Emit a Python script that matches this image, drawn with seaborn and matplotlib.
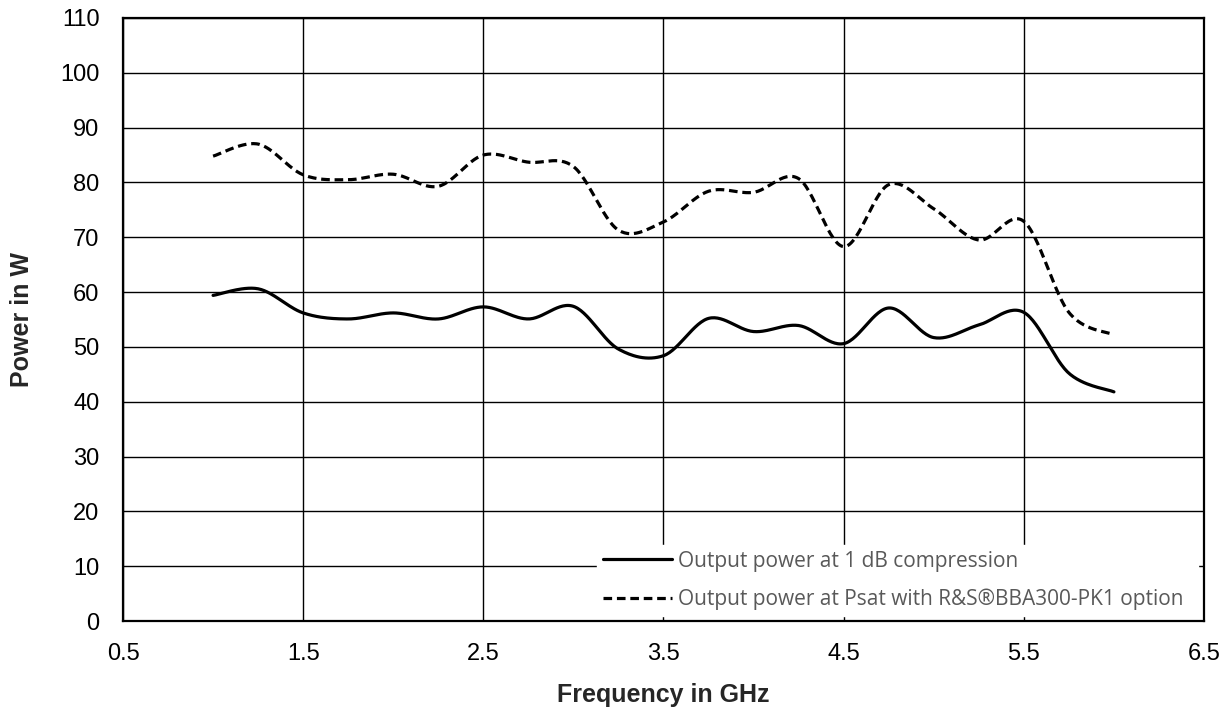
import numpy as np
import pandas as pd
import matplotlib
matplotlib.use("Agg")
import matplotlib.pyplot as plt
import seaborn as sns

freq_ghz = [1.0, 1.25, 1.5, 1.75, 2.0, 2.25, 2.5, 2.75, 3.0, 3.25, 3.5,
            3.75, 4.0, 4.25, 4.5, 4.75, 5.0, 5.25, 5.5, 5.75, 6.0]
p1db_w = [59.4, 60.6, 56.2, 55.1, 56.2, 55.1, 57.3, 55.1, 57.4, 49.6, 48.4,
          55.2, 52.8, 53.9, 50.6, 57.1, 51.7, 54.0, 56.3, 45.2, 41.8]
psat_w = [84.8, 87.0, 81.4, 80.5, 81.5, 79.3, 85.0, 83.7, 82.9, 71.3, 72.8,
          78.4, 78.2, 80.7, 68.3, 79.6, 75.2, 69.5, 72.9, 56.3, 52.2]

series_names = ["Output power at 1 dB compression",
                "Output power at Psat with R&S\u00aeBBA300-PK1 option"]
x_ticks = [0.5, 1.5, 2.5, 3.5, 4.5, 5.5, 6.5]
y_ticks = list(range(0, 111, 10))


def smooth(x, y, n=30):
    # Excel style smoothed line: cubic bezier through the points (Catmull-Rom)
    x = np.asarray(x, float)
    y = np.asarray(y, float)
    px = np.concatenate([[x[0]], x, [x[-1]]])
    py = np.concatenate([[y[0]], y, [y[-1]]])
    t = np.linspace(0, 1, n, endpoint=False)
    xs, ys = [], []
    for i in range(1, len(px) - 2):
        b0 = np.array([px[i], py[i]])
        b3 = np.array([px[i + 1], py[i + 1]])
        b1 = b0 + (np.array([px[i + 1], py[i + 1]]) - np.array([px[i - 1], py[i - 1]])) / 6
        b2 = b3 - (np.array([px[i + 2], py[i + 2]]) - np.array([px[i], py[i]])) / 6
        pts = ((1 - t) ** 3)[:, None] * b0 + (3 * (1 - t) ** 2 * t)[:, None] * b1 \
            + (3 * (1 - t) * t ** 2)[:, None] * b2 + (t ** 3)[:, None] * b3
        xs.append(pts[:, 0])
        ys.append(pts[:, 1])
    xs.append([x[-1]])
    ys.append([y[-1]])
    return np.concatenate(xs), np.concatenate(ys)


frames = []
for name, vals in zip(series_names, [p1db_w, psat_w]):
    sx, sy = smooth(freq_ghz, vals)
    frames.append(pd.DataFrame({"freq": sx, "power": sy, "series": name}))
df = pd.concat(frames, ignore_index=True)

sns.set_style("white")
plt.rcParams["font.family"] = ["Liberation Sans", "DejaVu Sans"]

fig = plt.figure(figsize=(12.31, 7.08), dpi=100)
ax = fig.add_axes([123 / 1231, 1 - 621 / 708, 1081 / 1231, 603 / 708])

sns.lineplot(data=df, x="freq", y="power", hue="series", style="series",
             palette=["black", "black"],
             dashes={series_names[0]: "", series_names[1]: (2.7, 1.5)},
             sort=False, estimator=None, units="series", lw=2.3, ax=ax,
             legend=False, zorder=3)

ax.set_xlim(0.5, 6.5)
ax.set_ylim(0, 110)
ax.set_xticks(x_ticks)
ax.set_xticklabels([f"{v:.1f}" for v in x_ticks])
ax.set_yticks(y_ticks)
ax.set_yticklabels([str(v) for v in y_ticks])
ax.tick_params(length=0, labelsize=17, colors="black")
ax.tick_params(axis="x", pad=16)
ax.tick_params(axis="y", pad=17)
ax.grid(True, color="black", lw=1.0)
for sp in ax.spines.values():
    sp.set_visible(True)
    sp.set_color("black")
    sp.set_linewidth(1.6)

ax.set_xlabel("Frequency in GHz", fontsize=18, fontweight="bold", labelpad=13)
ax.set_ylabel("Power in W", fontsize=18, fontweight="bold", labelpad=19)

handles = ax.get_lines()[:2]
x0 = 0.4385
leg = ax.legend(handles, series_names, loc="lower left", mode="expand",
                bbox_to_anchor=(x0, 0.008, 0.9945 - x0, 0.1), borderaxespad=0,
                frameon=True, fancybox=False, framealpha=1,
                facecolor="white", edgecolor="white",
                handlelength=3.3, handletextpad=0.3, labelspacing=0.8,
                borderpad=0.3,
                prop={"family": ["Open Sans", "DejaVu Sans"], "size": 15})
for txt in leg.get_texts():
    txt.set_color("#595959")
leg.set_zorder(5)

fig.savefig("out.png", dpi=100)
